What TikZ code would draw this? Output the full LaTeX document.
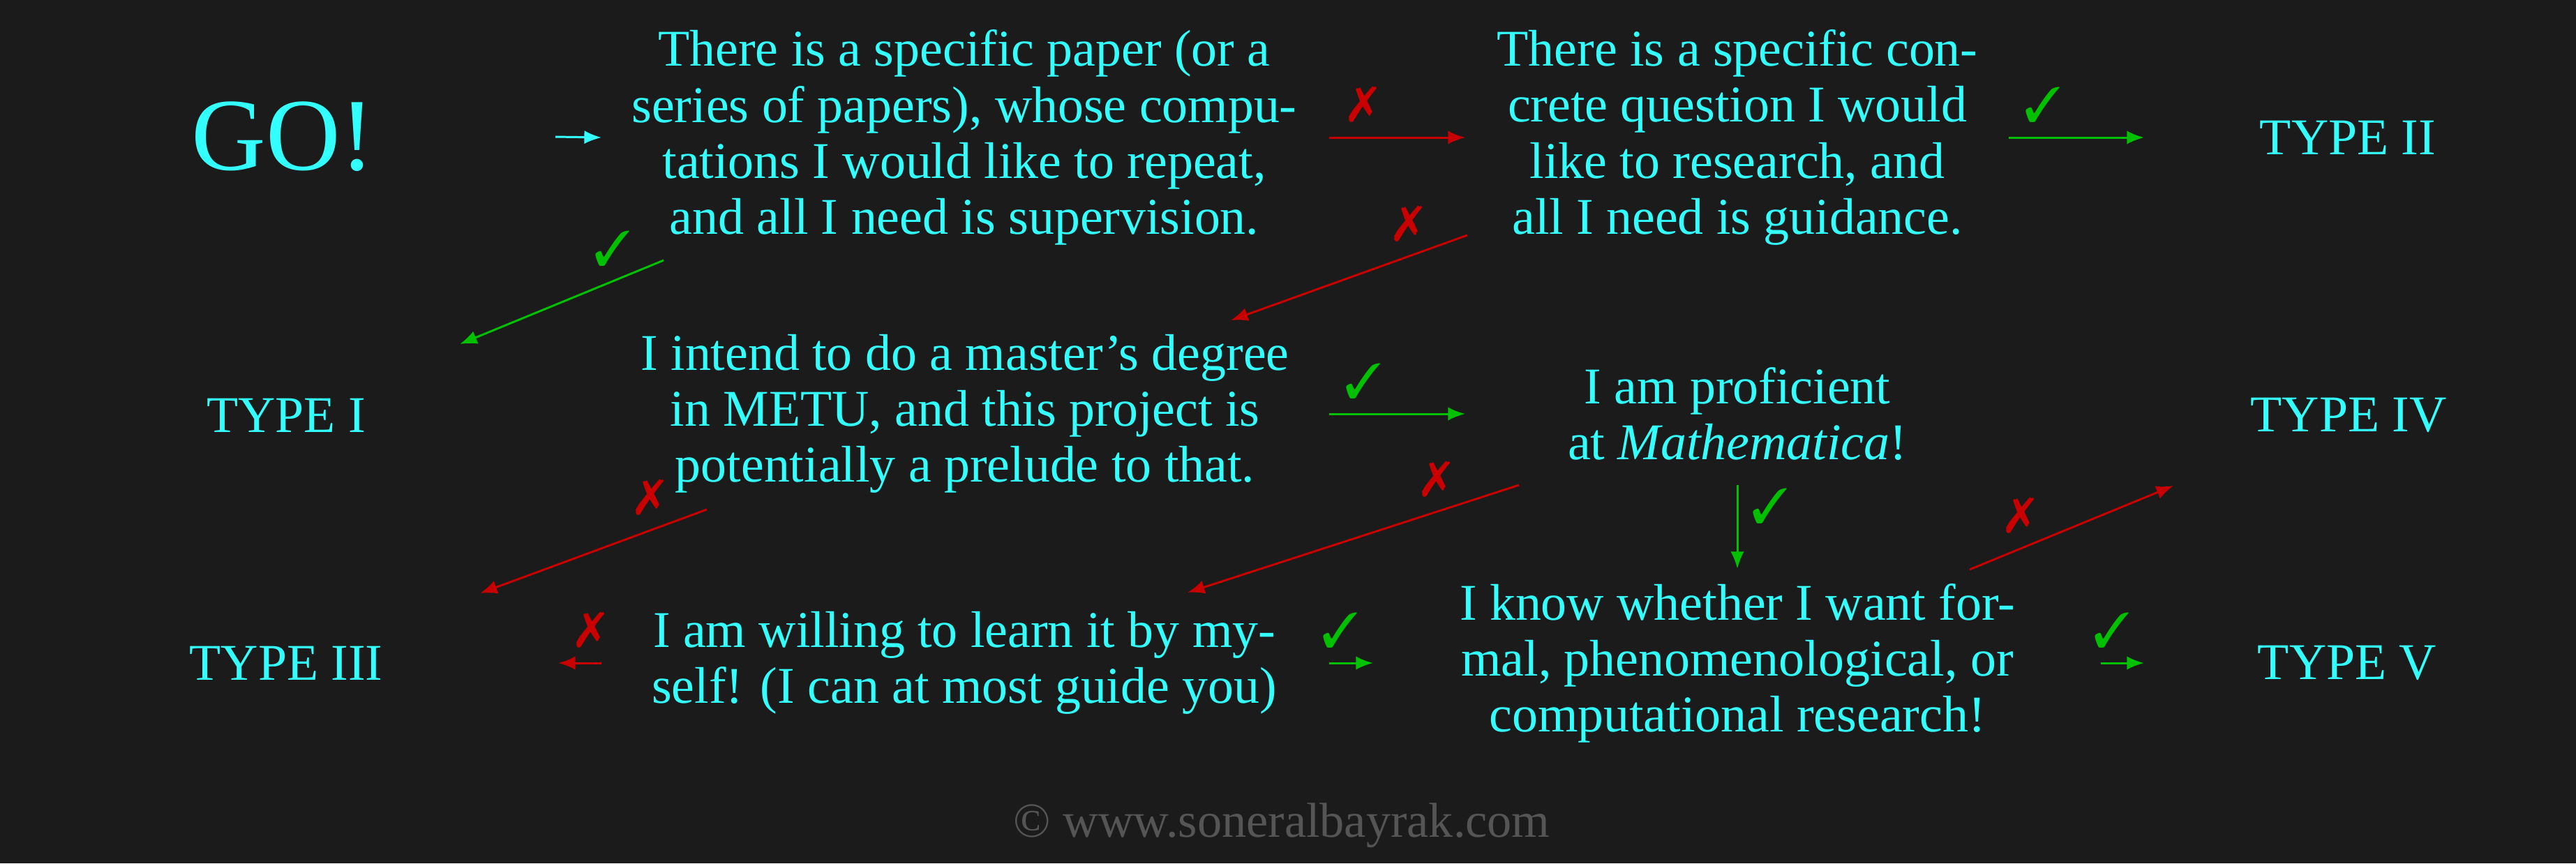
\documentclass[tikz,border=0pt]{standalone}
\usepackage{xcolor}
\usepackage{fontspec}
\usepackage{pifont}
\usepackage{tikz}
\usetikzlibrary{arrows.meta}
\setmainfont{Liberation Serif}
\definecolor{darkbg}{RGB}{27,27,27}
\definecolor{neoncyan}{RGB}{51,255,255}
\definecolor{okgreen}{RGB}{0,192,0}
\definecolor{badred}{RGB}{200,0,0}
\definecolor{markgray}{RGB}{85,85,85}

\begin{document}
\begin{tikzpicture}[
    answer/.style={text=neoncyan, align=center, inner sep=0pt, font=\fontsize{21}{22.8}\selectfont},
    kind/.style={text=neoncyan, inner sep=0pt, font=\fontsize{21}{22.8}\selectfont},
    goline/.style={neoncyan, line width=0.85pt, -{Latex[length=7pt,width=5.5pt]}},
    yesline/.style={okgreen, line width=0.85pt, -{Latex[length=7pt,width=5.5pt]}},
    noline/.style={badred, line width=0.85pt, -{Latex[length=7pt,width=5.5pt]}},
    okmark/.style={text=okgreen, inner sep=0pt, font=\fontsize{20}{24}\selectfont},
    nomark/.style={text=badred, inner sep=0pt, font=\fontsize{20}{24}\selectfont}
  ]
  \useasboundingbox (0,0) rectangle (36.92,-12.37);
  \fill[darkbg] (0,0) rectangle (36.92,-12.37);

  \node[kind, font=\fontsize{42}{48}\selectfont] (go) at (4.06,-1.96) {GO!};
  \node[answer] (paper) at (13.82,-1.97) {There is a specific paper (or a\\series of papers), whose compu-\\tations I would like to repeat,\\and all I need is supervision.};
  \node[answer] (question) at (24.90,-1.97) {There is a specific con-\\crete question I would\\like to research, and\\all I need is guidance.};
  \node[kind] (typeII) at (33.65,-1.97) {TYPE II};

  \node[kind] (typeI) at (4.10,-5.95) {TYPE I};
  \node[answer] (master) at (13.83,-5.93) {I intend to do a master’s degree\\in METU, and this project is\\potentially a prelude to that.};
  \node[answer] (proficient) at (24.90,-5.93) {I am proficient\\at \textit{Mathematica}!};
  \node[kind] (typeIV) at (33.66,-5.95) {TYPE IV};

  \node[kind] (typeIII) at (4.10,-9.50) {TYPE III};
  \node[answer] (willing) at (13.82,-9.50) {I am willing to learn it by my-\\self!  (I can at most guide you)};
  \node[answer] (whether) at (24.90,-9.50) {I know whether I want for-\\mal, phenomenological, or\\computational research!};
  \node[kind] (typeV) at (33.64,-9.50) {TYPE V};

  \node[text=markgray, inner sep=0pt, font=\fontsize{20}{24}\selectfont] (copyright) at (18.37,-11.83) {© www.soneralbayrak.com};

  \draw[goline] ([xshift=3.90cm]go.center) -- ([xshift=-5.20cm]paper.center);
  \draw[noline] ([xshift=5.23cm]paper.center) -- node[nomark, pos=.25, yshift=4.7mm] {\ding{55}} ([xshift=-3.90cm]question.center);
  \draw[yesline] ([xshift=3.89cm]question.center) -- node[okmark, pos=.25, yshift=4.7mm] {\ding{51}} ([xshift=-2.92cm]typeII.center);

  \draw[yesline] ([shift={(-4.31,-1.76)}]paper.center) -- node[okmark, pos=.25, yshift=4.7mm] {\ding{51}} ([shift={(2.49,1.02)}]typeI.center);
  \draw[noline] ([shift={(-3.87,-1.40)}]question.center) -- node[nomark, pos=.25, yshift=4.7mm] {\ding{55}} ([shift={(3.81,1.34)}]master.center);
  \draw[yesline] ([xshift=5.22cm]master.center) -- node[okmark, pos=.25, yshift=4.7mm] {\ding{51}} ([xshift=-3.90cm]proficient.center);

  \draw[noline] ([shift={(-3.70,-1.37)}]master.center) -- node[nomark, pos=.25, yshift=4.7mm] {\ding{55}} ([shift={(2.78,1.00)}]typeIII.center);
  \draw[noline] ([shift={(-3.13,-1.02)}]proficient.center) -- node[nomark, pos=.25, yshift=4.7mm] {\ding{55}} ([shift={(3.20,1.01)}]willing.center);
  \draw[yesline] ([yshift=-1.02cm]proficient.center) -- node[okmark, pos=.25, xshift=4.7mm] {\ding{51}} ([yshift=1.35cm]whether.center);
  \draw[noline] ([shift={(3.33,1.34)}]whether.center) -- node[nomark, pos=.25, yshift=4.7mm] {\ding{55}} ([shift={(-2.51,-1.01)}]typeIV.center);

  \draw[noline] ([xshift=-5.20cm]willing.center) -- node[nomark, pos=.25, yshift=4.7mm] {\ding{55}} ([xshift=3.90cm]typeIII.center);
  \draw[yesline] ([xshift=5.23cm]willing.center) -- node[okmark, pos=.25, yshift=4.7mm] {\ding{51}} ([xshift=-5.22cm]whether.center);
  \draw[yesline] ([xshift=5.21cm]whether.center) -- node[okmark, pos=.25, yshift=4.7mm] {\ding{51}} ([xshift=-2.91cm]typeV.center);
\end{tikzpicture}
\end{document}
